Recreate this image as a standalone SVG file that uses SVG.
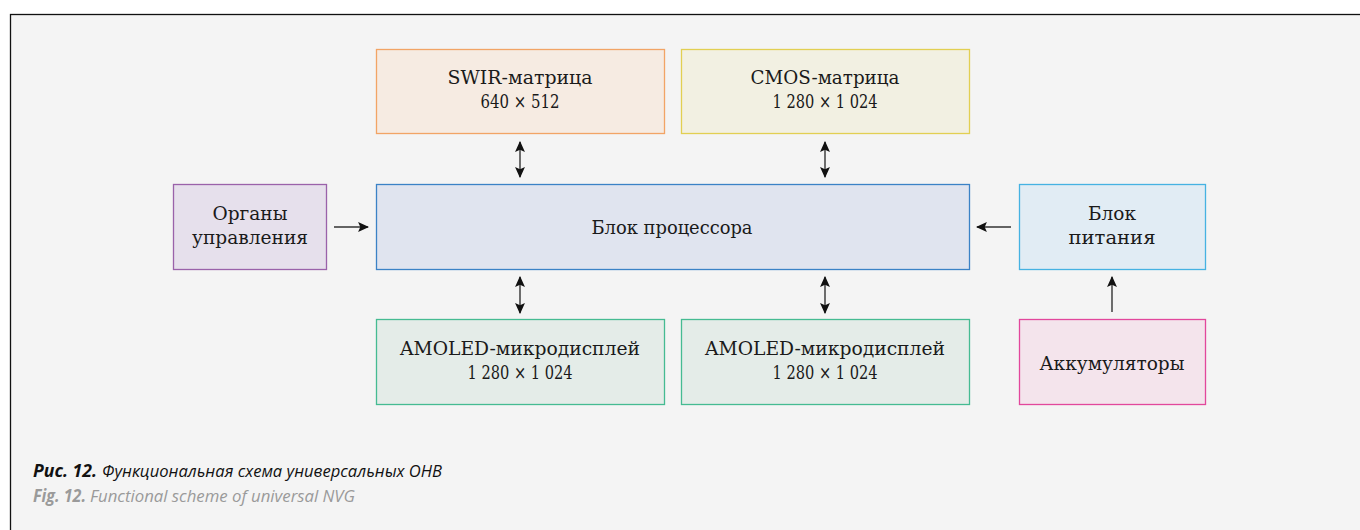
<svg xmlns="http://www.w3.org/2000/svg" width="1360" height="530" viewBox="0 0 1360 530">
<defs>
<marker id="ah" viewBox="0 0 10 10" refX="9" refY="5" markerWidth="11" markerHeight="11" markerUnits="userSpaceOnUse" orient="auto-start-reverse">
<path d="M0,0.5 L10,5 L0,9.5 L2,5 Z" fill="#111"/>
</marker>
<style>
.box{stroke-width:1.3}
.t{font-family:"DejaVu Serif","Liberation Serif",serif;font-size:18px;fill:#1a1a1a;text-anchor:middle}
.c{stroke:#333;stroke-width:1.4;fill:none}
.cap{font-family:"Open Sans","Noto Sans",sans-serif;font-style:italic;font-size:17px}
</style>
</defs>
<rect x="0" y="0" width="1360" height="530" fill="#ffffff"/>
<rect x="10.5" y="14.5" width="1360" height="530" fill="#f4f4f4" stroke="#111" stroke-width="1.3"/>

<g id="swir">
<rect class="box" x="376.5" y="49.5" width="288" height="84" fill="#f6ebe2" stroke="#f2a465"/>
<text class="t" x="520" y="84" textLength="145" lengthAdjust="spacingAndGlyphs">SWIR-матрица</text>
<text class="t" x="520" y="108" textLength="79" lengthAdjust="spacingAndGlyphs">640 × 512</text>
</g>
<g id="cmos">
<rect class="box" x="681.5" y="49.5" width="288" height="84" fill="#f2f0e2" stroke="#e2cf52"/>
<text class="t" x="825" y="84" textLength="149" lengthAdjust="spacingAndGlyphs">CMOS-матрица</text>
<text class="t" x="825" y="108" textLength="105" lengthAdjust="spacingAndGlyphs">1 280 × 1 024</text>
</g>
<g id="organy">
<rect class="box" x="173.5" y="184.5" width="153" height="85" fill="#e6e0ec" stroke="#9a62aa"/>
<text class="t" x="250" y="220" textLength="75" lengthAdjust="spacingAndGlyphs">Органы</text>
<text class="t" x="250" y="244" textLength="116" lengthAdjust="spacingAndGlyphs">управления</text>
</g>
<g id="cpu">
<rect class="box" x="376.5" y="184.5" width="593" height="85" fill="#e0e4ef" stroke="#3b82c6"/>
<text class="t" x="672" y="234" textLength="161" lengthAdjust="spacingAndGlyphs">Блок процессора</text>
</g>
<g id="power">
<rect class="box" x="1019.5" y="184.5" width="186" height="85" fill="#e1ecf4" stroke="#45b2e2"/>
<text class="t" x="1112" y="220" textLength="48" lengthAdjust="spacingAndGlyphs">Блок</text>
<text class="t" x="1112" y="244" textLength="87" lengthAdjust="spacingAndGlyphs">питания</text>
</g>
<g id="amoled1">
<rect class="box" x="376.5" y="319.5" width="288" height="85" fill="#e4ece8" stroke="#45bb92"/>
<text class="t" x="520" y="355" textLength="240" lengthAdjust="spacingAndGlyphs">AMOLED-микродисплей</text>
<text class="t" x="520" y="379" textLength="105" lengthAdjust="spacingAndGlyphs">1 280 × 1 024</text>
</g>
<g id="amoled2">
<rect class="box" x="681.5" y="319.5" width="288" height="85" fill="#e4ece8" stroke="#45bb92"/>
<text class="t" x="825" y="355" textLength="240" lengthAdjust="spacingAndGlyphs">AMOLED-микродисплей</text>
<text class="t" x="825" y="379" textLength="105" lengthAdjust="spacingAndGlyphs">1 280 × 1 024</text>
</g>
<g id="battery">
<rect class="box" x="1019.5" y="319.5" width="186" height="85" fill="#f4e4ec" stroke="#e2479c"/>
<text class="t" x="1112" y="370" textLength="145" lengthAdjust="spacingAndGlyphs">Аккумуляторы</text>
</g>

<g id="connectors">
<line class="c" x1="520" y1="142" x2="520" y2="177" marker-start="url(#ah)" marker-end="url(#ah)"/>
<line class="c" x1="825" y1="142" x2="825" y2="177" marker-start="url(#ah)" marker-end="url(#ah)"/>
<line class="c" x1="520" y1="277" x2="520" y2="313" marker-start="url(#ah)" marker-end="url(#ah)"/>
<line class="c" x1="825" y1="277" x2="825" y2="313" marker-start="url(#ah)" marker-end="url(#ah)"/>
<line class="c" x1="334" y1="227" x2="368" y2="227" marker-end="url(#ah)"/>
<line class="c" x1="1011" y1="227" x2="977" y2="227" marker-end="url(#ah)"/>
<line class="c" x1="1112" y1="312" x2="1112" y2="277" marker-end="url(#ah)"/>
</g>

<g id="caption">
<text class="cap" x="33" y="477" fill="#111" font-weight="bold" textLength="64" lengthAdjust="spacingAndGlyphs">Рис. 12.</text>
<text class="cap" x="102" y="477" fill="#111" textLength="340" lengthAdjust="spacingAndGlyphs">Функциональная схема универсальных ОНВ</text>
<text class="cap" x="33" y="502" fill="#9a9a9a" font-weight="bold" textLength="53" lengthAdjust="spacingAndGlyphs">Fig. 12.</text>
<text class="cap" x="90" y="502" fill="#9a9a9a" textLength="265" lengthAdjust="spacingAndGlyphs">Functional scheme of universal NVG</text>
</g>
</svg>
